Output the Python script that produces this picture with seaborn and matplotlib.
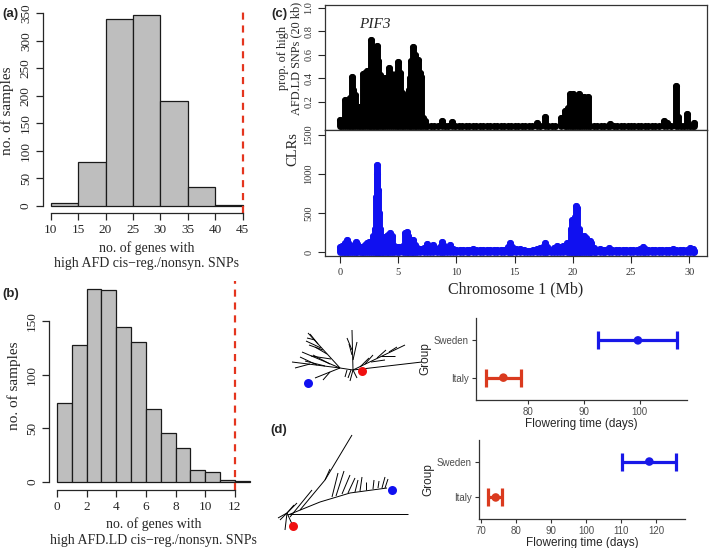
import matplotlib
matplotlib.use("Agg")
import matplotlib.pyplot as plt
import seaborn as sns

# ---------------- data ----------------
# (a) null distribution, high AFD cis-reg./nonsyn. genes
a_edges = [10, 15, 20, 25, 30, 35, 40, 45]
a_counts = [5, 80, 340, 347, 191, 34, 1]
a_observed = 45

# (b) null distribution, high AFD.LD cis-reg./nonsyn. genes
b_edges = [0, 1, 2, 3, 4, 5, 6, 7, 8, 9, 10, 11, 12, 13]
b_counts = [74, 128, 180, 179, 144, 130, 68, 46, 32, 11, 9, 2, 1]
b_observed = 12

# (c) chromosome 1 scans, window position in Mb
afd_pos = [0.0, 0.1, 0.25, 0.45, 0.6, 0.75, 0.86, 1.0, 1.1, 1.3, 1.45, 1.6, 1.75,
           1.9, 2.0, 2.15, 2.3, 2.45, 2.58, 2.7, 2.82, 2.95, 3.05, 3.18, 3.3, 3.45,
           3.58, 3.72, 3.87, 4.05, 4.2, 4.4, 4.55, 4.72, 4.87, 5.0, 5.15, 5.3, 5.45,
           5.6, 5.78, 5.9, 6.0, 6.12, 6.3, 6.42, 6.55, 6.7, 6.85, 7.0, 7.15, 7.3,
           7.5, 7.8, 8.1, 8.4, 8.73, 9.0, 9.3, 9.6, 9.9, 10.2, 10.5, 10.8, 11.1,
           11.4, 11.7, 12.0, 12.3, 12.6, 12.9, 13.2, 13.5, 13.8, 14.1, 14.4, 14.7,
           15.0, 15.3, 15.6, 15.9, 16.2, 16.5, 16.9, 17.2, 17.6, 17.9, 18.2, 18.5,
           18.96, 19.3, 19.45, 19.6, 19.76, 19.9, 20.05, 20.2, 20.35, 20.5, 20.6,
           20.75, 20.95, 21.1, 21.3, 21.5, 21.8, 22.1, 22.4, 22.7, 23.0, 23.2, 23.5,
           23.8, 24.1, 24.4, 24.7, 25.0, 25.3, 25.6, 25.9, 26.2, 26.5, 26.8, 27.1,
           27.4, 27.8, 28.1, 28.4, 28.84, 29.05, 29.3, 29.55, 29.85, 30.1, 30.3, 30.45]
afd_prop = [0.05, 0.03, 0.02, 0.22, 0.21, 0.20, 0.23, 0.41, 0.30, 0.26, 0.15, 0.16,
            0.14, 0.15, 0.44, 0.45, 0.46, 0.45, 0.47, 0.73, 0.50, 0.46, 0.45, 0.68,
            0.55, 0.43, 0.40, 0.39, 0.40, 0.38, 0.49, 0.44, 0.43, 0.42, 0.45, 0.54,
            0.45, 0.28, 0.15, 0.13, 0.25, 0.30, 0.40, 0.55, 0.67, 0.60, 0.56, 0.56,
            0.45, 0.41, 0.06, 0.04,
            0.0, 0.0, 0.0, 0.0, 0.04, 0.0, 0.0, 0.03, 0.0, 0.0, 0.0, 0.0, 0.0,
            0.0, 0.0, 0.0, 0.0, 0.0, 0.0, 0.0, 0.0, 0.0, 0.0, 0.0, 0.0,
            0.0, 0.0, 0.0, 0.0, 0.0, 0.0, 0.02, 0.0, 0.07, 0.0, 0.0, 0.0,
            0.06, 0.12, 0.10, 0.15, 0.265, 0.20, 0.265, 0.18, 0.20, 0.27, 0.20,
            0.12, 0.24, 0.23, 0.24, 0.0, 0.0, 0.0, 0.0, 0.0, 0.0, 0.01, 0.0,
            0.0, 0.0, 0.0, 0.0, 0.0, 0.0, 0.0, 0.0, 0.0, 0.0, 0.0, 0.0,
            0.0, 0.04, 0.02, 0.0, 0.34, 0.07, 0.0, 0.0, 0.10, 0.0, 0.0, 0.02]

clr_pos = [0.0, 0.15, 0.3, 0.45, 0.57, 0.7, 0.85, 1.0, 1.2, 1.38, 1.5, 1.7, 1.86, 2.0,
           2.15, 2.3, 2.5, 2.7, 2.85, 3.0, 3.08, 3.15, 3.22, 3.3, 3.38, 3.44, 3.6,
           3.73, 3.9, 4.0, 4.15, 4.3, 4.45, 4.6, 4.87, 5.1, 5.44, 5.6, 5.72, 5.85,
           6.0, 6.15, 6.25, 6.4, 6.6, 6.9, 7.2, 7.45, 7.7, 8.0, 8.3, 8.55, 8.73, 8.9,
           9.2, 9.45, 9.7, 10.0, 10.3, 10.6, 10.9, 11.1, 11.4, 11.7, 12.0, 12.3, 12.6,
           12.9, 13.2, 13.5, 13.8, 14.1, 14.4, 14.6, 14.8, 15.1, 15.5, 15.8, 16.1,
           16.3, 16.6, 16.9, 17.2, 17.45, 17.6, 17.8, 18.1, 18.35, 18.6, 18.9, 19.2,
           19.5, 19.7, 19.85, 19.95, 20.1, 20.2, 20.3, 20.4, 20.5, 20.6, 20.8, 21.0,
           21.15, 21.3, 21.5, 21.6, 21.8, 22.0, 22.3, 22.6, 22.8, 23.1, 23.4, 23.7,
           24.0, 24.3, 24.6, 24.9, 25.2, 25.5, 25.8, 26.0, 26.2, 26.5, 26.8, 27.1,
           27.4, 27.7, 28.0, 28.3, 28.6, 28.9, 29.2, 29.5, 29.8, 30.07, 30.3, 30.45]
clr_val = [60, 80, 90, 110, 150, 120, 70, 60, 90, 130, 100, 60, 60, 70,
           90, 120, 130, 120, 200, 300, 700, 1110, 1000, 790, 500, 300, 180,
           190, 180, 200, 220, 240, 200, 80, 60, 70, 80, 240, 260, 200,
           80, 150, 150, 90, 50, 40, 50, 100, 50, 90, 40, 60, 130, 80,
           50, 95, 40, 30, 30, 25, 30, 30, 40, 30, 20, 25, 30,
           25, 30, 25, 20, 25, 60, 120, 70, 40, 40, 25, 15,
           10, 20, 40, 50, 70, 110, 60, 30, 50, 80, 60, 80,
           110, 120, 300, 410, 350, 450, 590, 560, 300, 180, 150, 210,
           180, 90, 140, 110, 50, 30, 40, 30, 30, 50, 30, 30,
           25, 30, 25, 20, 25, 30, 40, 60, 40, 25, 20, 20,
           25, 20, 25, 30, 40, 30, 25, 20, 30, 50, 40, 10]

# (d) flowering time per group
ft_groups = ["Italy", "Sweden"]
ft1_mean = [75.5, 99.7]
ft1_lo = [72.3, 92.5]
ft1_hi = [78.6, 106.8]
ft2_mean = [74.2, 118.0]
ft2_lo = [72.1, 110.2]
ft2_hi = [76.1, 125.5]
group_colors = ["#DA3A1E", "#1818E8"]

# trees (local units inside each tree box), edges as (x0, y0, x1, y1)
tree1_edges = [(68, 50, 137, 42), (68, 50, 120, 25), (80, 44, 88, 35), (92, 38, 101, 30),
               (104, 32, 112, 27), (96, 36, 110, 36), (86, 42, 100, 40), (75, 47, 84, 38),
               (68, 50, 67, 10), (67, 30, 62, 18), (68, 40, 72, 22), (67, 35, 64, 24),
               (68, 50, 55, 48), (55, 48, 23, 13), (42, 34, 30, 27), (36, 28, 21, 21),
               (46, 39, 26, 36), (33, 24, 25, 14), (30, 20, 22, 18), (38, 30, 24, 25),
               (55, 48, 7, 42), (32, 45, 15, 37), (25, 44, 10, 48), (40, 46, 20, 41),
               (55, 48, 17, 32), (45, 44, 28, 35), (55, 48, 30, 58), (45, 52, 38, 60),
               (68, 50, 65, 61), (68, 50, 72, 58), (62, 50, 60, 57), (66, 50, 63, 58)]
tree1_red = (77, 51)
tree1_blue = (23, 63)

tree2_edges = [(18, 89, 138, 89), (18, 90, 50, 77), (50, 77, 80, 68), (80, 68, 117, 63),
               (30, 85, 55, 55), (55, 55, 82, 10), (55, 55, 60, 44), (62, 72, 68, 48),
               (66, 71, 74, 46), (72, 69, 80, 50), (78, 68, 85, 53), (85, 67, 88, 55),
               (90, 66, 92, 52), (96, 65, 96, 57), (103, 64, 104, 55), (108, 63, 109, 56),
               (112, 63, 115, 52), (115, 63, 118, 54), (20, 92, 42, 65),
               (17, 88, 10, 95), (17, 88, 15, 105), (17, 88, 8, 93), (17, 88, 27, 78),
               (17, 88, 24, 80), (17, 88, 22, 99)]
tree2_red = (23, 101)
tree2_blue = (122, 65)

# ---------------- style ----------------
sns.set_style("ticks")
plt.rcParams["font.family"] = ["Liberation Serif", "DejaVu Serif"]
plt.rcParams["axes.linewidth"] = 0.9
sans = ["Liberation Sans", "DejaVu Sans"]
dash_red = "#E4351E"

W, H = 709, 548
fig = plt.figure(figsize=(W / 100, H / 100), dpi=100)


def add_ax(left, top, right, bottom):
    return fig.add_axes([left / W, 1 - bottom / H, (right - left) / W, (bottom - top) / H])


def r_hist(ax, edges, counts, observed, xticks, yticks, xlab):
    mids = [(lo + hi) / 2 for lo, hi in zip(edges[:-1], edges[1:])]
    sns.histplot(x=mids, weights=counts, bins=edges, color="#BEBEBE", edgecolor="#1a1a1a",
                 linewidth=0.9, alpha=1, ax=ax)
    span = edges[-1] - edges[0]
    top = max(counts)
    ax.set_xlim(edges[0] - 0.04 * span, edges[-1] + 0.04 * span)
    ax.set_ylim(-0.04 * top, top * 1.04)
    ax.axvline(observed, color=dash_red, lw=1.6, ls=(0, (3.2, 2.6)))
    sns.despine(ax=ax)
    ax.spines["left"].set_bounds(yticks[0], yticks[-1])
    ax.spines["bottom"].set_bounds(xticks[0], xticks[-1])
    ax.set_xticks(xticks)
    ax.set_yticks(yticks)
    ax.tick_params(length=5, width=0.9, labelsize=9.5, pad=3)
    for t in ax.get_yticklabels():
        t.set_rotation(90)
        t.set_va("center")
    ax.set_ylabel("no. of samples", fontsize=11, labelpad=4)
    ax.set_xlabel(xlab, fontsize=10, labelpad=3.5, linespacing=1.22)


# (a)
ax_a = add_ax(43, 7.3, 250.4, 213.3)
r_hist(ax_a, a_edges, a_counts, a_observed, list(range(10, 46, 5)), list(range(0, 351, 50)),
       "no. of genes with\nhigh AFD cis\u2212reg./nonsyn. SNPs")

# (b)
ax_b = add_ax(49.3, 281.1, 257.5, 489.7)
r_hist(ax_b, b_edges, b_counts, b_observed, list(range(0, 13, 2)), [0, 50, 100, 150],
       "no. of genes with\nhigh AFD.LD cis\u2212reg./nonsyn. SNPs")

# (c) top: proportion of high AFD.LD SNPs
ax_c1 = add_ax(325, 5, 707, 130)
ax_c1.vlines(afd_pos, 0, afd_prop, color="black", lw=5, capstyle="round")
sns.scatterplot(x=afd_pos, y=afd_prop, color="black", s=26, linewidth=0, ax=ax_c1)
ax_c1.set_xlim(-1.29, 31.53)
ax_c1.set_ylim(-0.038, 1.025)
ax_c1.set_xticks([])
ax_c1.set_yticks([0.2, 0.4, 0.6, 0.8, 1.0])
ax_c1.tick_params(axis="y", length=5, width=0.8, labelsize=7.5, labelcolor="#333333")
for t in ax_c1.get_yticklabels():
    t.set_rotation(90)
    t.set_va("center")
ax_c1.set_ylabel("")
# two-line y label, each line centred on the same height (R mtext style)
for line, xpx in [("prop. of high", 283), ("AFD.LD SNPs (20 kb)", 296)]:
    fig.text(xpx / W, 1 - 58 / H, line, rotation=90, fontsize=8.8, ha="center", va="center")
ax_c1.text(3.0, 0.855, "PIF3", style="italic", fontsize=11, ha="center", va="center")
for s in ax_c1.spines.values():
    s.set_color("#333333")

# (c) bottom: CLR
ax_c2 = add_ax(325, 130, 707, 256)
ax_c2.vlines(clr_pos, 0, clr_val, color="#1010F0", lw=5, capstyle="round")
sns.scatterplot(x=clr_pos, y=clr_val, color="#1010F0", s=26, linewidth=0, ax=ax_c2)
ax_c2.set_xlim(-1.29, 31.53)
ax_c2.set_ylim(-51, 1564)
ax_c2.set_xticks([0, 5, 10, 15, 20, 25, 30])
ax_c2.set_yticks([0, 500, 1000, 1500])
ax_c2.tick_params(length=5, width=0.8, labelsize=7.5, labelcolor="#333333")
for t in ax_c2.get_yticklabels():
    t.set_rotation(90)
    t.set_va("center")
ax_c2.set_ylabel("CLRs", fontsize=10.5)
ax_c2.yaxis.set_label_coords(-0.068, 0.85)
ax_c2.set_xlabel("Chromosome 1 (Mb)", fontsize=11.5, labelpad=3)
for s in ax_c2.spines.values():
    s.set_color("#333333")


# (d) flowering time
def ft_panel(ax, mean, lo, hi, xticks):
    ypos = [1, 2]
    for m, l, h, y, c in zip(mean, lo, hi, ypos, group_colors):
        ax.errorbar([m], [y], xerr=[[m - l], [h - m]], fmt="none", ecolor=c,
                    elinewidth=2.3, capsize=6.5, capthick=2.3)
    sns.scatterplot(x=mean, y=ypos, hue=ft_groups, palette=group_colors, s=38,
                    linewidth=0, legend=False, ax=ax, zorder=3)
    span = max(hi) - min(lo)
    ax.set_xlim(min(lo) - 0.05 * span, max(hi) + 0.05 * span)
    ax.set_ylim(0.4, 2.6)
    ax.set_yticks(ypos)
    ax.set_yticklabels(ft_groups)
    ax.set_xticks(xticks)
    sns.despine(ax=ax)
    for s in ("left", "bottom"):
        ax.spines[s].set_color("#333333")
        ax.spines[s].set_linewidth(0.9)
    ax.tick_params(length=3, width=0.8, color="#333333", labelcolor="#4D4D4D",
                   labelsize=7, pad=2)
    for t in ax.get_xticklabels() + ax.get_yticklabels():
        t.set_family(sans)
    ax.set_xlabel("Flowering time (days)", fontsize=8.5, family=sans, labelpad=1)
    ax.set_ylabel("Group", fontsize=8.5, family=sans, labelpad=2)


ax_d1 = add_ax(476, 318, 687, 400)
ft_panel(ax_d1, ft1_mean, ft1_lo, ft1_hi, [80, 90, 100])
ax_d2 = add_ax(479, 440, 685, 519)
ft_panel(ax_d2, ft2_mean, ft2_lo, ft2_hi, [70, 80, 90, 100, 110, 120])


# trees
def draw_tree(ax, edges, red, blue, w, h):
    for x0, y0, x1, y1 in edges:
        ax.plot([x0, x1], [y0, y1], color="black", lw=0.7, solid_capstyle="butt")
    ax.scatter([red[0]], [red[1]], s=42, color="#F01010", zorder=3, linewidths=0)
    ax.scatter([blue[0]], [blue[1]], s=42, color="#1010F0", zorder=3, linewidths=0)
    ax.set_xlim(0, w)
    ax.set_ylim(h, 0)
    ax.axis("off")


ax_t1 = add_ax(285, 320, 430, 395)
draw_tree(ax_t1, tree1_edges, tree1_red, tree1_blue, 145, 75)
ax_t2 = add_ax(270, 425, 415, 535)
draw_tree(ax_t2, tree2_edges, tree2_red, tree2_blue, 145, 110)

# panel letters
for lab, x, y in [("(a)", 2, 14), ("(b)", 2, 294), ("(c)", 271, 14), ("(d)", 270, 430)]:
    fig.text(x / W, 1 - y / H, lab, fontsize=9.5, fontweight="bold", family=sans,
             ha="left", va="center")

fig.savefig("out.png", dpi=100)
